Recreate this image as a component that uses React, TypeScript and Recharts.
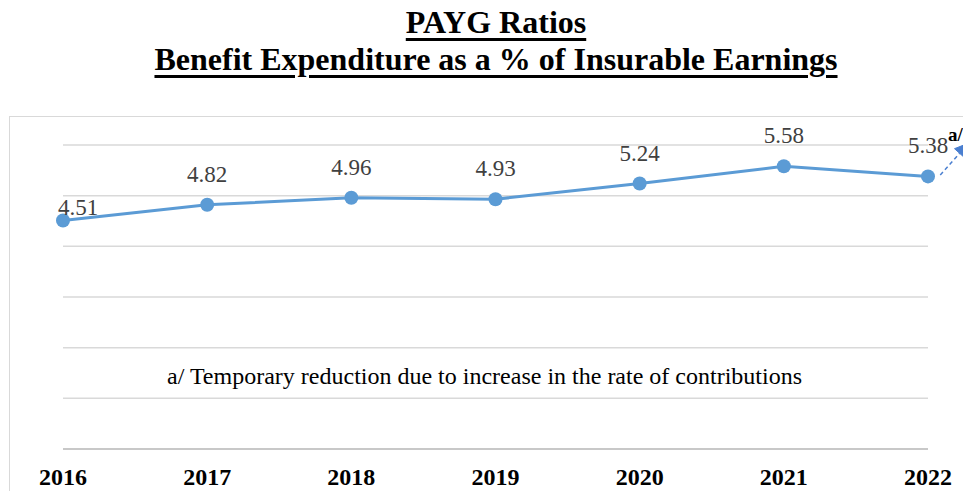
import React from 'react';
import { LineChart, Line, XAxis, YAxis, CartesianGrid, ReferenceLine, LabelList } from 'recharts';

const years = [2016, 2017, 2018, 2019, 2020, 2021, 2022];
const ratios = [4.51, 4.82, 4.96, 4.93, 5.24, 5.58, 5.38];
const yTicks = [0, 1, 2, 3, 4, 5, 6];
const titleLine1 = 'PAYG Ratios';
const titleLine2 = 'Benefit Expenditure as a % of Insurable Earnings';
const footnote = 'a/ Temporary reduction due to increase in the rate of contributions';
const footnoteMark = 'a/';
const arrowStart = { x: 2022.085, y: 5.41 };
const arrowEnd = { x: 2022.285, y: 6.04 };

const data = years.map((year, i) => ({ year, ratio: ratios[i] }));

const FONT = '"Liberation Serif", "Times New Roman", serif';
const BLUE = '#5b9bd5';
const ARROW = '#4a7fd0';

const XTick = (props: any) => {
  const { x, y, payload } = props;
  return (
    <text x={x} y={y + 36} textAnchor="middle" fontFamily={FONT} fontSize={24} fontWeight="bold" fill="#000">
      {payload.value}
    </text>
  );
};

const ValueLabel = (props: any) => {
  const { x, y, value, index } = props;
  let dx = 0;
  let dy = -23;
  if (index === 0) {
    dx = 15;
    dy = -5;
  }
  return (
    <g>
      <text x={x + dx} y={y + dy} textAnchor="middle" fontFamily={FONT} fontSize={23} fill="#404040">
        {Number(value).toFixed(2)}
      </text>
      {index === ratios.length - 1 && (
        <text x={x + 20} y={y - 35} textAnchor="start" fontFamily={FONT} fontSize={19} fontWeight="bold" fill="#000">
          {footnoteMark}
        </text>
      )}
    </g>
  );
};

const ArrowShape = (props: any) => {
  const { x1, y1, x2, y2 } = props;
  const ang = Math.atan2(y2 - y1, x2 - x1);
  const len = 14;
  const w = 7;
  const bx = x2 - len * Math.cos(ang);
  const by = y2 - len * Math.sin(ang);
  const px = -Math.sin(ang) * w;
  const py = Math.cos(ang) * w;
  return (
    <g>
      <line x1={x1} y1={y1} x2={bx} y2={by} stroke={ARROW} strokeWidth={1.5} strokeDasharray="4 3" />
      <polygon points={`${x2},${y2} ${bx + px},${by + py} ${bx - px},${by - py}`} fill={ARROW} stroke={ARROW} strokeWidth={1} />
    </g>
  );
};

const titleStyle: React.CSSProperties = {
  position: 'absolute',
  left: 496,
  transform: 'translateX(-50%)',
  whiteSpace: 'nowrap',
  fontFamily: FONT,
  fontSize: 32,
  fontWeight: 'bold',
  lineHeight: '37px',
  textDecoration: 'underline',
  textDecorationThickness: '3px',
  textUnderlineOffset: '5px',
  color: '#000',
};

export default function App() {
  return (
    <div style={{ position: 'relative', width: 971, height: 499, margin: -8, overflow: 'hidden', background: '#fff' }}>
      <div
        style={{
          position: 'absolute',
          left: 9,
          top: 116,
          width: 1200,
          height: 600,
          borderLeft: '1px solid #d9d9d9',
          borderTop: '1px solid #d9d9d9',
        }}
      />
      <div style={{ ...titleStyle, top: 4 }}>{titleLine1}</div>
      <div style={{ ...titleStyle, top: 41 }}>{titleLine2}</div>
      <div style={{ position: 'absolute', left: 0, top: 0 }}>
        <LineChart width={971} height={499} data={data} margin={{ top: 145, right: 43, bottom: 20, left: 63 }}>
          <CartesianGrid horizontal vertical={false} stroke="#d9d9d9" strokeWidth={1.5} />
          <XAxis
            dataKey="year"
            type="number"
            domain={[2016, 2022]}
            ticks={years}
            interval={0}
            height={30}
            tickLine={false}
            tickSize={0}
            tickMargin={0}
            axisLine={{ stroke: '#bfbfbf', strokeWidth: 1.5 }}
            tick={<XTick />}
          />
          <YAxis type="number" domain={[0, 6]} ticks={yTicks} hide />
          <ReferenceLine
            segment={[arrowStart, arrowEnd]}
            ifOverflow="visible"
            shape={(p: any) => <ArrowShape {...p} />}
          />
          <Line
            type="linear"
            dataKey="ratio"
            stroke={BLUE}
            strokeWidth={3}
            dot={{ r: 7, fill: BLUE, stroke: 'none' }}
            activeDot={false}
            isAnimationActive={false}
          >
            <LabelList dataKey="ratio" content={<ValueLabel />} />
          </Line>
        </LineChart>
      </div>
      <div
        style={{
          position: 'absolute',
          left: 484.5,
          top: 364,
          transform: 'translateX(-50%)',
          whiteSpace: 'nowrap',
          fontFamily: FONT,
          fontSize: 24,
          lineHeight: '24px',
          color: '#000',
        }}
      >
        {footnote}
      </div>
    </div>
  );
}
